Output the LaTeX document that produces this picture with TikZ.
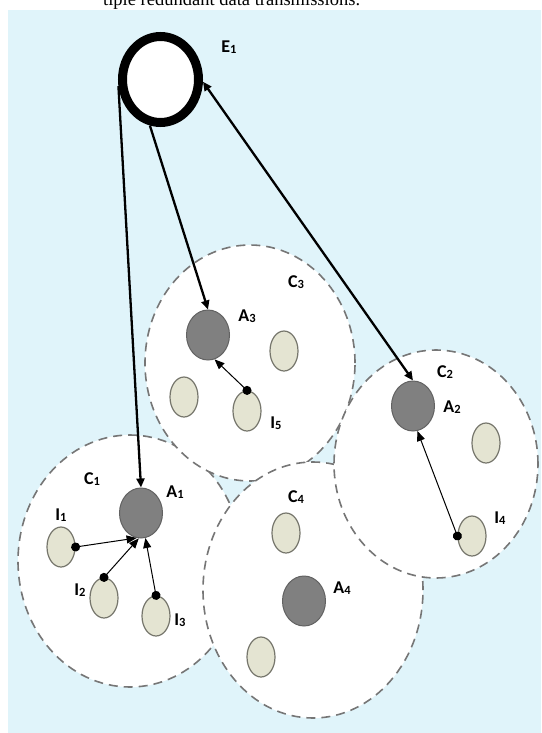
\documentclass[tikz,border=0pt]{standalone}
\usepackage{fontspec}
\setmainfont{Carlito}
\newfontfamily\captionserif{Liberation Serif}
\usetikzlibrary{shapes.geometric,arrows.meta}

\definecolor{panel}{RGB}{224,244,250}
\definecolor{clusterline}{RGB}{118,118,118}
\definecolor{agentfill}{RGB}{128,128,128}
\definecolor{agentline}{RGB}{98,98,98}
\definecolor{devfill}{RGB}{228,228,210}
\definecolor{devline}{RGB}{118,118,108}

% small digit set next to a letter, as in A1, C3, I5
\newcommand\lsub[1]{\raisebox{-0.8pt}{\fontsize{12.5}{12.5}\selectfont #1}}

\tikzset{
  cluster/.style={ellipse, draw=clusterline, fill=white, line width=1.6pt,
    dash pattern=on 9pt off 6pt, inner sep=0pt},
  edge/.style={ellipse, draw=black, fill=white, line width=9pt, inner sep=0pt,
    minimum width=76pt, minimum height=86pt},
  agent/.style={ellipse, draw=agentline, fill=agentfill, line width=1pt, inner sep=0pt,
    minimum width=43pt, minimum height=50pt},
  device/.style={ellipse, draw=devline, fill=devfill, line width=1.2pt, inner sep=0pt,
    minimum width=28pt, minimum height=40pt},
  lbl/.style={font=\bfseries\fontsize{18}{18}\selectfont, inner sep=0pt},
  uplink/.style={line width=2.3pt, -{Triangle[length=9pt,width=8pt]}},
  duplex/.style={line width=2.3pt, {Triangle[length=9pt,width=8pt]}-{Triangle[length=9pt,width=8pt]}},
  report/.style={line width=1pt, {Circle[length=9pt]}-{Triangle[length=10pt,width=8pt]},
    shorten <=-4.5pt},
}

\begin{document}
\begin{tikzpicture}[x=1pt,y=-1pt]
\useasboundingbox (0,0) rectangle (541,733);
\clip (0,0) rectangle (541,733);
\fill[white] (0,0) rectangle (541,733);
\fill[panel] (8,10) rectangle (541,733);

% running text of the page above the figure
\node[anchor=base west, inner sep=0pt, font=\captionserif\fontsize{18.5}{18.5}\selectfont]
  (runtext) at (103,6) {tiple redundant data transmissions.};

% clusters, drawn in stacking order
\node[cluster, minimum width=224pt, minimum height=252pt] (C1) at (130,561) {};
\node[cluster, minimum width=210pt, minimum height=236pt] (C3) at (250,363) {};
\node[cluster, minimum width=220pt, minimum height=256pt] (C4) at (313,590) {};
\node[cluster, minimum width=204pt, minimum height=228pt] (C2) at (436,464) {};

% edge node
\node[edge] (E1) at (160.5,79.5) {};

% aggregator nodes
\node[agent] (A1) at (141,513) {};
\node[agent] (A2) at (413,406) {};
\node[agent] (A3) at (208,335) {};
\node[agent] (A4) at (304,601) {};

% devices
\node[device] (d31) at (284,351) {};
\node[device] (d32) at (184,397) {};
\node[device] (I5) at (247,411) {};
\node[device] (d21) at (486,443) {};
\node[device] (I4) at (472,536) {};
\node[device] (I1) at (61,547) {};
\node[device] (I2) at (104,598) {};
\node[device] (I3) at (156,616) {};
\node[device] (d41) at (286,533) {};
\node[device] (d42) at (261,657) {};

% labels
\node[lbl] (lE1) at (229,47) {E\lsub{1}};
\node[lbl] (lC3) at (296,282) {C\lsub{3}};
\node[lbl] (lA3) at (247,316) {A\lsub{3}};
\node[lbl] (lI5) at (276,423) {I\lsub{5}};
\node[lbl] (lC2) at (445,372) {C\lsub{2}};
\node[lbl] (lA2) at (452,407) {A\lsub{2}};
\node[lbl] (lI4) at (500,518) {I\lsub{4}};
\node[lbl] (lC1) at (92,479) {C\lsub{1}};
\node[lbl] (lA1) at (175,492) {A\lsub{1}};
\node[lbl] (lI1) at (61,515) {I\lsub{1}};
\node[lbl] (lI2) at (80,590) {I\lsub{2}};
\node[lbl] (lI3) at (180,620) {I\lsub{3}};
\node[lbl] (lC4) at (296,497) {C\lsub{4}};
\node[lbl] (lA4) at (342,588) {A\lsub{4}};

% links between the edge node and the aggregators
\draw[uplink] (E1.189) -- (A1.north);
\draw[uplink] (E1.257) -- (A3.north);
\draw[duplex] (E1.357) -- (A2.north);

% device reports to their aggregators
\draw[report] (I1.east) -- (A1.-100);
\draw[report] (I2.north) -- (A1.-95);
\draw[report] (I3.north) -- (A1.-80);
\draw[report] (I5.north) -- (A3.-75);
\draw[report] (I4.west) -- (A2.-80);
\end{tikzpicture}
\end{document}
